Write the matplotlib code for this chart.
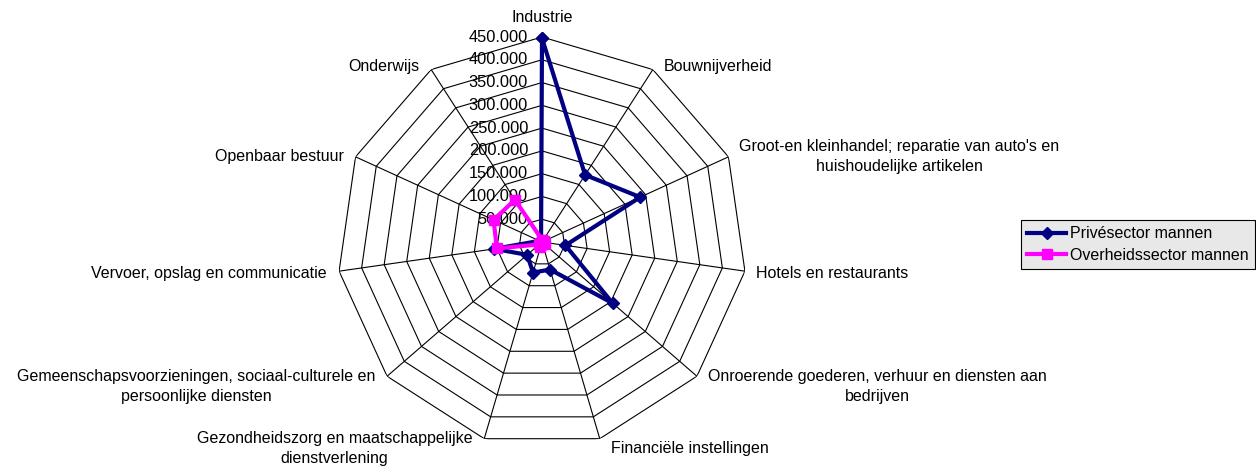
import matplotlib
matplotlib.use("Agg")
import matplotlib.pyplot as plt
import matplotlib.transforms as mtransforms
import numpy as np

plt.rcParams['font.family'] = ['Liberation Sans', 'DejaVu Sans']

# Sectors, clockwise from the top
categories = [
    "Industrie",
    "Bouwnijverheid",
    "Groot-en kleinhandel; reparatie van auto's en\nhuishoudelijke artikelen",
    "Hotels en restaurants",
    "Onroerende goederen, verhuur en diensten aan\nbedrijven",
    "Financiële instellingen",
    "Gezondheidszorg en maatschappelijke\ndienstverlening",
    "Gemeenschapsvoorzieningen, sociaal-culturele en\npersoonlijke diensten",
    "Vervoer, opslag en communicatie",
    "Openbaar bestuur",
    "Onderwijs",
]
prive_mannen = [447000, 175000, 237000, 52000, 205000, 63000, 70000, 43000, 106000, 6000, 4000]
overheid_mannen = [5000, 3000, 4000, 2000, 8000, 5000, 12000, 8000, 100000, 117000, 110000]
ring_values = [50000, 100000, 150000, 200000, 250000, 300000, 350000, 400000, 450000]
ring_labels = ["50.000", "100.000", "150.000", "200.000", "250.000",
               "300.000", "350.000", "400.000", "450.000"]

W, H = 1256, 469
fig = plt.figure(figsize=(W / 100, H / 100), dpi=100)
cx, cy, R = 542, 242, 205
ax = fig.add_axes([(cx - R) / W, (H - cy - R) / H, 2 * R / W, 2 * R / H], projection='polar')
ax.set_theta_zero_location('N')
ax.set_theta_direction(-1)
rmax = ring_values[-1]
ax.set_ylim(0, rmax)
ax.grid(False)
ax.set_xticks([])
ax.set_yticks([])
ax.spines['polar'].set_visible(False)
ax.patch.set_visible(False)

n = len(categories)
theta = np.arange(n) * 2 * np.pi / n
closed = np.append(theta, theta[0])

# polygon grid
for v in ring_values:
    ax.plot(closed, [v] * (n + 1), color='black', lw=0.8, zorder=1)
for t in theta:
    ax.plot([t, t], [0, rmax], color='black', lw=0.8, zorder=1)

# value labels along the Industrie axis
off = mtransforms.offset_copy(ax.transData, fig=fig, x=-14, y=0, units='dots')
for v, lab in zip(ring_values, ring_labels):
    ax.text(0, v, lab, transform=off, ha='right', va='center', fontsize=11.8, zorder=2)

# series
ax.plot(closed, prive_mannen + prive_mannen[:1], color='#000080', lw=3,
        marker='D', markersize=6, label='Privésector mannen', zorder=3, clip_on=False)
ax.plot(closed, overheid_mannen + overheid_mannen[:1], color='#FF00FF', lw=3,
        marker='s', markersize=7, label='Overheidssector mannen', zorder=4, clip_on=False)

# category labels
for t, lab in zip(theta, categories):
    s, c = np.sin(t), np.cos(t)
    if abs(s) < 1e-6:
        ha, va, dx, dy = 'center', 'bottom', 0, 12
    else:
        ha = 'left' if s > 0 else 'right'
        va = 'center'
        dx = 11 if s > 0 else -12
        dy = -10 * min(1.0, -c * 1.5) if c < 0 else (3 if c > 0.5 else 0)
    tr = mtransforms.offset_copy(ax.transData, fig=fig, x=dx, y=dy, units='dots')
    ax.text(t, rmax, lab, transform=tr, ha=ha, va=va, multialignment='center',
            fontsize=11.5, linespacing=1.42)

leg = fig.legend(loc='upper left', bbox_to_anchor=(1021 / W, 1 - 220 / H),
                 fontsize=11.5, frameon=True, fancybox=False, edgecolor='black',
                 handlelength=2.4, borderpad=0.4, labelspacing=0.4, handletextpad=0.25,
                 borderaxespad=0)
leg.get_frame().set_linewidth(0.8)
leg.get_frame().set_facecolor('#e8e8e8')
leg.get_frame().set_alpha(1)

fig.savefig('out.png', dpi=100)
